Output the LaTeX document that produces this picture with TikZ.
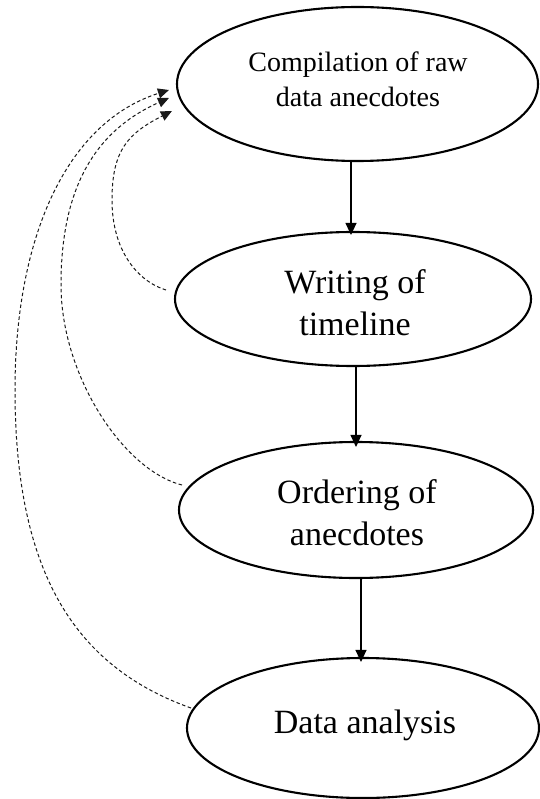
\documentclass[tikz,border=0pt]{standalone}
\usepackage{fontspec}
\setmainfont{Liberation Serif}
\usetikzlibrary{shapes.geometric,arrows.meta}
\tikzset{
  oval/.style={ellipse, draw=black, line width=2.1pt, inner sep=0pt},
  bigtext/.style={font=\fontsize{34}{42}\selectfont, align=center, inner sep=0pt},
  smalltext/.style={font=\fontsize{28}{35}\selectfont, align=center, inner sep=0pt},
  flow/.style={line width=1.1pt, -{Triangle[length=12pt,width=11pt]}},
  back/.style={line width=1pt, dash pattern=on 3.5pt off 2.5pt, draw=black!90, -{Triangle[length=11pt,width=10pt]}}
}
\begin{document}
\begin{tikzpicture}[x=1pt,y=-1pt]
\useasboundingbox (0,0) rectangle (539,799);
% ellipses
\node[oval, minimum width=361pt, minimum height=154pt] (e1) at (357.5,84) {};
\node[oval, minimum width=356pt, minimum height=134pt] (e2) at (353,299) {};
\node[oval, minimum width=354pt, minimum height=136pt] (e3) at (356,510) {};
\node[oval, minimum width=352pt, minimum height=140pt] (e4) at (363,728) {};
% texts
\node[smalltext] (t1) at (358,79) {Compilation of raw\\data anecdotes};
\node[bigtext] (t2) at (355,302.5) {Writing of\\timeline};
\node[bigtext] (t3) at (357,512.5) {Ordering of\\anecdotes};
\node[bigtext] (t4) at (365,725) {Data analysis};
% solid arrows
\draw[flow] (e1.south -| 351,0) -- ([yshift=-4pt]e2.north -| 351,0);
\draw[flow] (e2.south -| 356,0) -- ([yshift=-6pt]e3.north -| 356,0);
\draw[flow] (e3.south -| 361,0) -- ([yshift=-5pt]e4.north -| 361,0);
% feedback tips and turning points
\coordinate (tipA) at ([shift={(-4,27)}]e1.west);
\coordinate (tipB) at ([shift={(-7,14)}]e1.west);
\coordinate (tipC) at ([shift={(-7,6)}]e1.west);
\coordinate (mA) at (112,200);
\coordinate (mB) at (61,285);
\coordinate (mC) at (15,390);
% dashed feedback curves
\draw[back] ([shift={(-8,-9)}]e2.west) .. controls (137,281) and (112,250) .. (mA)
  .. controls (112,150) and (128,133.5) .. (tipA);
\draw[back] ([shift={(4,-25)}]e3.west) .. controls (123,470) and (61,375) .. (mB)
  .. controls (61,195) and (90,133) .. (tipB);
\draw[back] ([shift={(5,-20)}]e4.west) .. controls (73,666) and (15,570) .. (mC)
  .. controls (15,240) and (65,123) .. (tipC);
\end{tikzpicture}
\end{document}
